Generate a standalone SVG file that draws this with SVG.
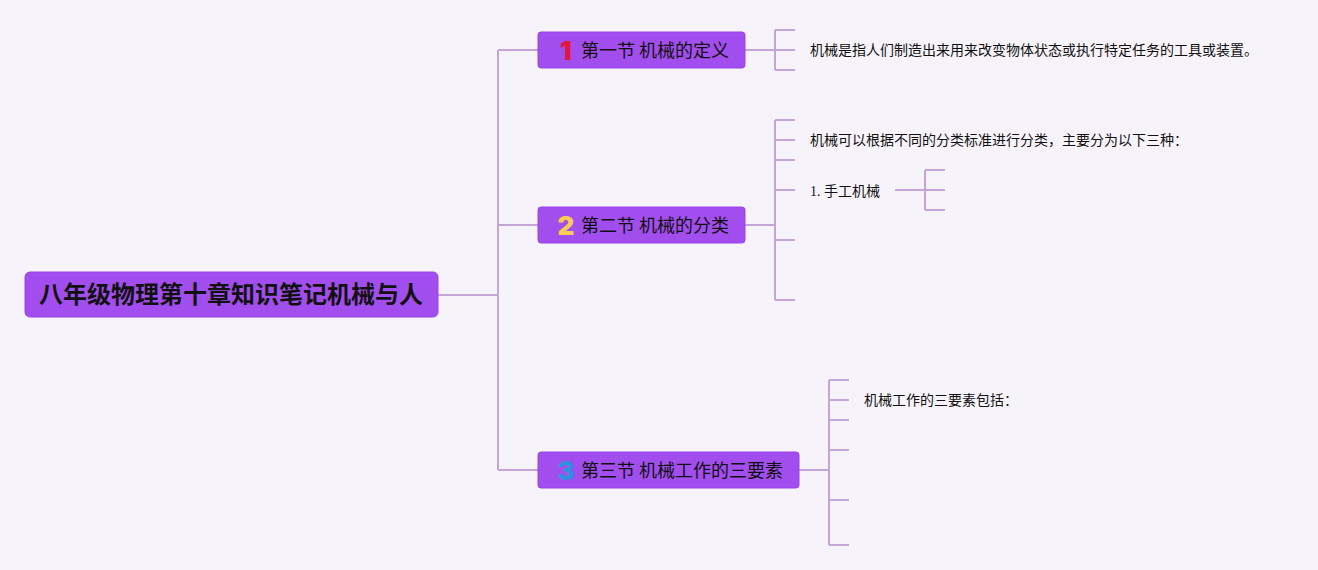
<svg xmlns="http://www.w3.org/2000/svg" width="1318" height="570" viewBox="0 0 1318 570">
<style>
.bg{fill:#f7f3fa}
.box{fill:#a24ded;stroke:#9b45e6;stroke-width:1}
.ln{fill:none;stroke:#c3a5d8;stroke-width:2}
.root{font-family:"Noto Sans CJK SC","Liberation Sans",sans-serif;font-size:24px;font-weight:bold;fill:#111}
.sec{font-family:"Noto Sans CJK SC","Liberation Sans",sans-serif;font-size:18px;fill:#111}
.num{font-family:"Inter","Liberation Sans",sans-serif;font-size:26px;font-weight:900}
.txt{font-family:"Noto Sans CJK SC","Liberation Sans",sans-serif;font-size:14px;fill:#111}
.ser{font-family:"Liberation Serif",serif;font-size:14px;fill:#111}
</style>
<rect class="bg" x="0" y="0" width="1318" height="570"/>
<g id="connectors">
<path class="ln" d="M438 295 H498 M498 50 V470 M498 50 H538 M498 225 H538 M498 470 H538"/>
<path class="ln" d="M745 50 H775 M775 30 V70 M775 30 H795 M775 50 H795 M775 70 H795"/>
<path class="ln" d="M745 225 H775 M775 120 V300 M775 120 H795 M775 140 H795 M775 160 H795 M775 190 H795 M775 240 H795 M775 300 H795"/>
<path class="ln" d="M895 190 H925 M925 170 V210 M925 170 H945 M925 190 H945 M925 210 H945"/>
<path class="ln" d="M799 470 H829 M829 380 V545 M829 380 H849 M829 400 H849 M829 420 H849 M829 450 H849 M829 500 H849 M829 545 H849"/>
</g>
<g id="root">
<rect class="box" x="25" y="272" width="413" height="45" rx="5"/>
<text class="root" x="231" y="303" text-anchor="middle">八年级物理第十章知识笔记机械与人</text>
</g>
<g id="sec1">
<rect class="box" x="538" y="32" width="207" height="36" rx="3"/>
<text class="num" x="566" y="60" text-anchor="middle" fill="#e3173e">1</text>
<text class="sec" x="581" y="57">第一节 机械的定义</text>
</g>
<g id="sec1-text">
<text class="txt" x="810" y="55">机械是指人们制造出来用来改变物体状态或执行特定任务的工具或装置。</text>
</g>
<g id="sec2">
<rect class="box" x="538" y="207" width="207" height="36" rx="3"/>
<text class="num" x="566" y="235" text-anchor="middle" fill="#f6cd52">2</text>
<text class="sec" x="581" y="232">第二节 机械的分类</text>
</g>
<g id="sec2-text">
<text class="txt" x="810" y="145">机械可以根据不同的分类标准进行分类，主要分为以下三种：</text>
</g>
<g id="sec2-item1">
<text class="ser" x="810" y="196">1.</text>
<text class="txt" x="824" y="196">手工机械</text>
</g>
<g id="sec3">
<rect class="box" x="538" y="452" width="261" height="36" rx="3"/>
<text class="num" x="566" y="480" text-anchor="middle" fill="#2f90e0">3</text>
<text class="sec" x="581" y="477">第三节 机械工作的三要素</text>
</g>
<g id="sec3-text">
<text class="txt" x="864" y="405">机械工作的三要素包括：</text>
</g>
</svg>
